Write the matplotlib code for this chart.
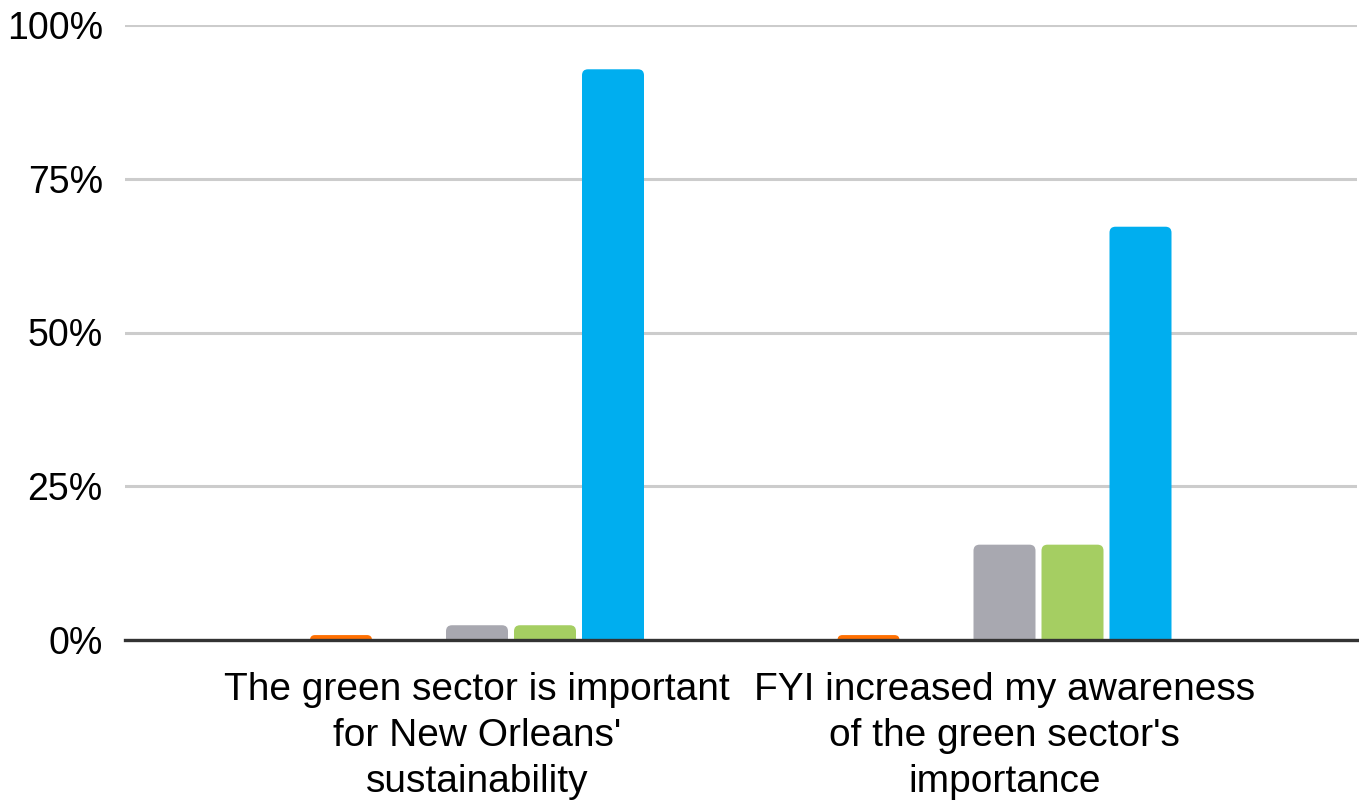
import matplotlib.pyplot as plt
from matplotlib.patches import FancyBboxPatch
import numpy as np

plt.rcParams['font.family'] = ['Liberation Sans', 'DejaVu Sans']

categories = ["The green sector is important\nfor New Orleans'\nsustainability",
              "FYI increased my awareness\nof the green sector's\nimportance"]
series_names = ['Strongly disagree', 'Disagree', 'Neutral', 'Agree', 'Strongly agree']
series_colors = ['#FF6F00', '#E0E0E0', '#A8A8B0', '#A5CE62', '#00AEEF']
values = [
    [0.8, 0.8],    # strongly disagree
    [0.0, 0.0],    # disagree
    [2.4, 15.5],   # neutral
    [2.4, 15.5],   # agree
    [92.8, 67.2],  # strongly agree
]
yticks = [0, 25, 50, 75, 100]

fig = plt.figure(figsize=(13.59, 8.07), dpi=100)
ax = fig.add_axes([125 / 1359, 1 - 640 / 807, 1232 / 1359, 615 / 807])

x = np.arange(len(categories))
slot = 68 / 527.5
width = 62 / 527.5

# px per data unit, used to keep the corner rounding circular
px_x = 527.5
px_y = 6.15
r_px = 6

for i, (name, col, vals) in enumerate(zip(series_names, series_colors, values)):
    bars = ax.bar(x + (i - 2) * slot, vals, width, color=col, label=name)
    for b in bars:
        h = b.get_height()
        b.set_visible(False)
        if h <= 0:
            continue
        r = min(r_px, h * px_y) / px_x
        ext = r * px_x / px_y
        p = FancyBboxPatch((b.get_x(), -ext), b.get_width(), h + ext,
                           boxstyle=f'round,pad=0,rounding_size={r}',
                           mutation_aspect=px_x / px_y,
                           facecolor=col, edgecolor='none', zorder=2)
        ax.add_patch(p)

ax.set_xlim((125 - 477) / 527.5, (1357 - 477) / 527.5)
ax.set_ylim(0, 100)
ax.set_yticks(yticks)
ax.set_yticklabels([f'{v}%' for v in yticks], fontsize=27)
ax.set_xticks(x)
ax.set_xticklabels(categories, fontsize=28, linespacing=1.36)
ax.tick_params(axis='both', length=0)
ax.tick_params(axis='y', pad=16)
ax.tick_params(axis='x', pad=23)

ax.grid(axis='y', color='#CCCCCC', linewidth=2.2, zorder=0)
ax.set_axisbelow(True)
for s in ['top', 'right', 'left']:
    ax.spines[s].set_visible(False)
ax.spines['bottom'].set_color('#333333')
ax.spines['bottom'].set_linewidth(2.4)
ax.spines['bottom'].set_zorder(3)

fig.savefig('out.png', dpi=100)
